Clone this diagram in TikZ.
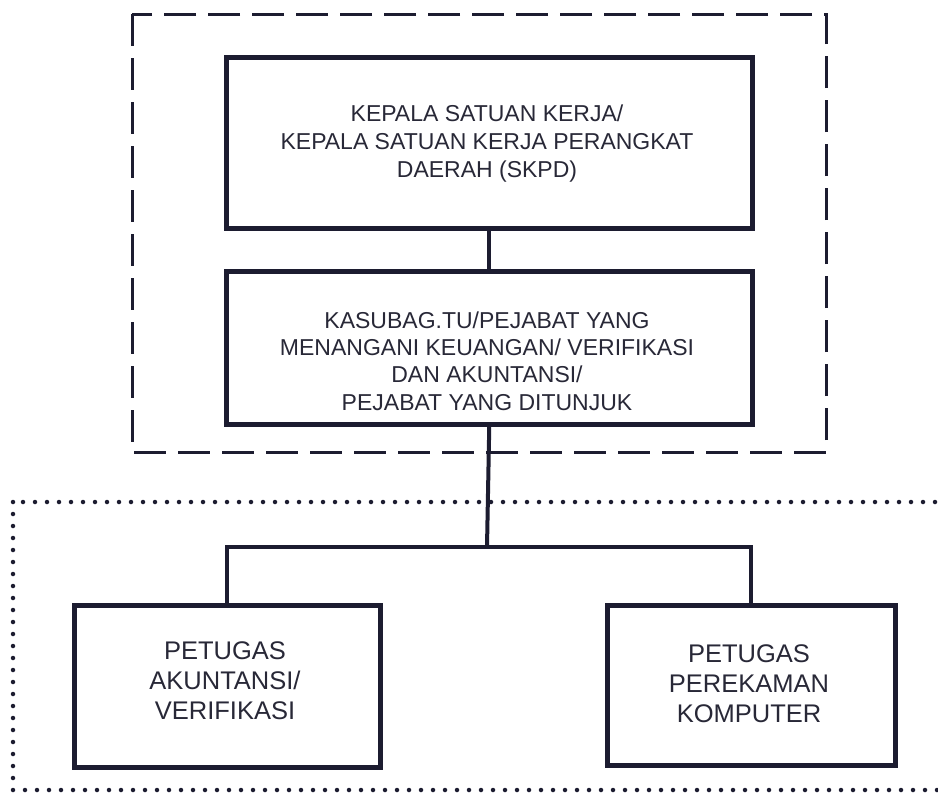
\documentclass[tikz,border=0pt]{standalone}
\usepackage{fontspec}
\setmainfont{Liberation Sans}
\definecolor{ink}{RGB}{28,28,48}
\definecolor{txt}{RGB}{40,40,55}
\begin{document}
\begin{tikzpicture}[x=1pt,y=-1pt,
  box/.style={draw=ink,line width=4.5pt,rectangle,inner sep=0pt,anchor=north west},
  lbl/.style={text=txt,align=center,inner sep=0pt},
  toptext/.style={lbl,font=\fontsize{23}{28}\selectfont},
  midtext/.style={lbl,font=\fontsize{23}{27.2}\selectfont},
  bottext/.style={lbl,font=\fontsize{25.5}{30}\selectfont},
  conn/.style={draw=ink,line width=4pt},
  dashedframe/.style={draw=ink,line width=3pt,dash pattern=on 32pt off 12pt},
  dottedframe/.style={draw=ink,line width=4.5pt,line cap=round,dash pattern=on 0pt off 12pt}
]
\clip (0,0) rectangle (938,798);
\fill[white] (0,0) rectangle (938,798);

% frames
\draw[dashedframe] (132,14) rectangle (826,452);
\draw[dottedframe] (13,502) rectangle (960,790);

% boxes
\node[box,minimum width=526pt,minimum height=171pt] (top) at (224,55) {};
\node[box,minimum width=526pt,minimum height=153pt] (mid) at (224,269) {};
\node[box,minimum width=306pt,minimum height=162pt] (left) at (72,603) {};
\node[box,minimum width=288pt,minimum height=160pt] (right) at (605,603) {};

% texts
\node[toptext] (toplbl) at (487,144) {KEPALA SATUAN KERJA/\\KEPALA SATUAN KERJA PERANGKAT\\DAERAH (SKPD)};
\node[midtext] (midlbl) at (487,361) {KASUBAG.TU/PEJABAT YANG\\MENANGANI KEUANGAN/ VERIFIKASI\\DAN AKUNTANSI/\\PEJABAT YANG DITUNJUK};
\node[bottext] (leftlbl) at (225,681) {PETUGAS\\AKUNTANSI/\\VERIFIKASI};
\node[bottext] (rightlbl) at (749,683.5) {PETUGAS\\PEREKAMAN\\KOMPUTER};

% connectors
\coordinate (j) at (487,547);
\draw[conn] (top.south) -- (mid.north);
\draw[conn] (mid.south) -- (j);
\draw[conn] (j) -| (left.north);
\draw[conn] (j) -| (right.north);
\end{tikzpicture}
\end{document}
